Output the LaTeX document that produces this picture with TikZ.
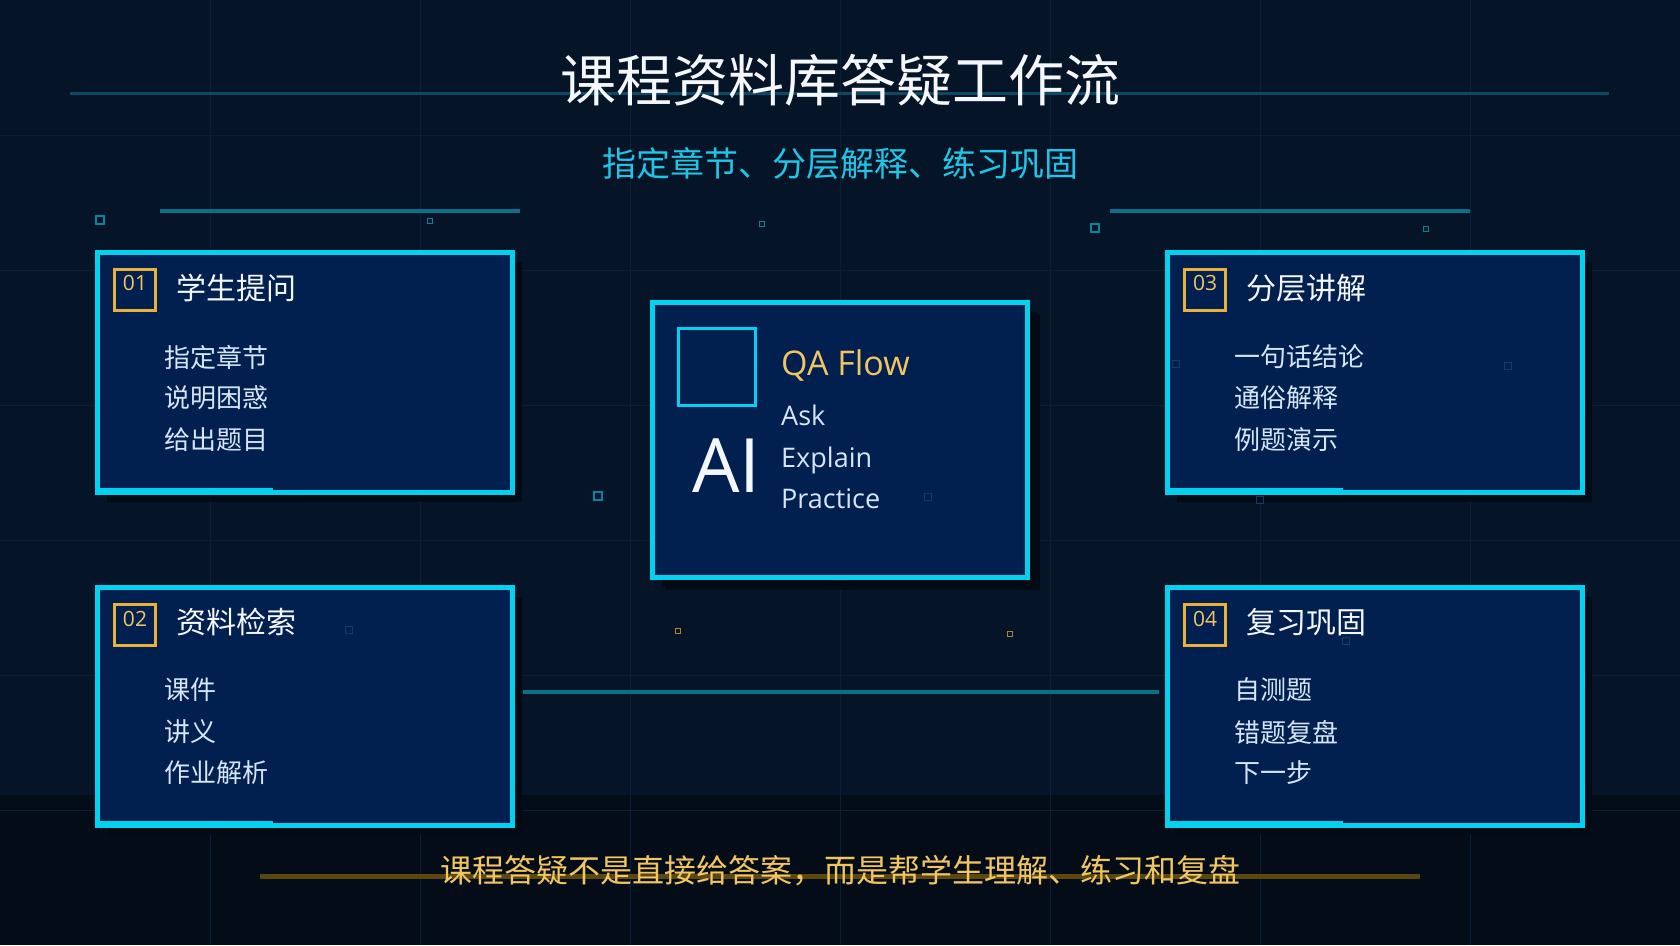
\documentclass[tikz,border=0pt]{standalone}
\usepackage{fontspec}
\setmainfont{Open Sans}
\newfontfamily\cjk{Noto Sans CJK SC}
\usetikzlibrary{calc,shadows}
\definecolor{bg}{HTML}{061428}
\definecolor{bgbot}{HTML}{040D17}
\definecolor{gridc}{HTML}{0A2038}
\definecolor{cardfill}{HTML}{012050}
\definecolor{cyanb}{HTML}{00D2F0}
\definecolor{subc}{HTML}{1EC6E8}
\definecolor{tealc}{HTML}{0A7088}
\definecolor{tealdim}{HTML}{0B4A64}
\definecolor{goldc}{HTML}{E8B23A}
\definecolor{goldtxt}{HTML}{F2C563}
\definecolor{goldline}{HTML}{5A480E}
\definecolor{itemc}{HTML}{D6E6F6}
\definecolor{titlec}{HTML}{F4F8FC}
\definecolor{shadowc}{HTML}{020A14}
\definecolor{faintsq}{HTML}{1B3A62}
\newcommand{\fsz}[1]{\fontsize{#1}{#1}\selectfont}
\begin{document}
\begin{tikzpicture}[x=1pt,y=-1pt,
  card/.style={draw=cyanb, line width=5pt, fill=cardfill, inner sep=0pt,
    drop shadow={shadow xshift=9pt, shadow yshift=-9pt, fill=shadowc, opacity=0.9}},
  numbox/.style={draw=goldc, line width=3pt, minimum size=41pt, inner sep=0pt},
  numtxt/.style={text=goldtxt, font=\fsz{21}, inner sep=0pt},
  ctitle/.style={text=titlec, font=\cjk\fsz{30}, inner sep=0pt, anchor=west},
  citem/.style={text=itemc, font=\cjk\fsz{26}, inner sep=0pt, anchor=west},
  eng/.style={text=itemc, font=\fsz{27}, inner sep=0pt, anchor=base west},
  dsq/.style={draw=#1, line width=1.8pt, minimum size=8pt, inner sep=0pt},
  ssq/.style={draw=#1, line width=1.5pt, minimum size=5pt, inner sep=0pt},
  fsq/.style={draw=faintsq, line width=1.2pt, minimum size=7pt, inner sep=0pt},
  conn/.style={draw=tealc, line width=4pt},
  accent/.style={draw=cyanb, line width=2.5pt}
]
\useasboundingbox (0,0) rectangle (1680,945);
% background
\fill[bg] (0,0) rectangle (1680,945);
\fill[bgbot] (0,795) rectangle (1680,945);
\foreach \x in {210,420,...,1470} \draw[gridc, line width=1pt] (\x,0) -- (\x,945);
\foreach \y in {135,270,...,810} \draw[gridc, line width=1pt] (0,\y) -- (1680,\y);

% title
\draw[tealdim, line width=3pt] (70,93) -- (1609,93);
\node[text=titlec, font=\cjk\fsz{56}, inner sep=0pt] (title) at (840,80) {课程资料库答疑工作流};
\node[text=subc, font=\cjk\fsz{34}, inner sep=0pt] (sub) at (840,163) {指定章节、分层解释、练习巩固};

% deco lines
\draw[tealc, line width=4pt] (160,211) -- (520,211);
\draw[tealc, line width=4pt] (1110,211) -- (1470,211);

% small squares
\node[dsq=tealc!80!cyanb] (s1) at (100,220) {};
\node[ssq=tealc!80!cyanb] (s2) at (430,221) {};
\node[ssq=tealc!80!cyanb] (s3) at (762,224) {};
\node[dsq=tealc!80!cyanb] (s4) at (1095,228) {};
\node[ssq=tealc!80!cyanb] (s5) at (1426,229) {};
\node[dsq=tealc!80!cyanb] (s6) at (598,496) {};
\node[ssq=goldc!75!black] (s7) at (678,631) {};
\node[ssq=goldc!75!black] (s8) at (1010,634) {};

% connector
\node[card, minimum width=415pt, minimum height=238pt] (b2) at (305,706.5) {};
\node[card, minimum width=415pt, minimum height=238pt] (b4) at (1375,706.5) {};
\draw[conn] ($(b2.east)+(8,-14.5)$) -- ($(b4.west)+(-6,-14.5)$);

% cards
\node[card, minimum width=415pt, minimum height=240pt] (b1) at (305,372.5) {};
\node[card, minimum width=415pt, minimum height=240pt] (b3) at (1375,372.5) {};
\node[card, minimum width=375pt, minimum height=275pt,
  drop shadow={shadow xshift=12pt, shadow yshift=-12pt, fill=shadowc, opacity=0.9}] (bc) at (840,440) {};

% bottom accents
\foreach \b in {b1,b2,b3,b4}
  \draw[accent] ($(\b.south west)+(2.5,-5.5)$) -- ++(175,0);

% card 01
\node[numbox] (n1) at (135,289.5) {};
\node[numtxt] (n1t) at (135,283) {01};
\node[ctitle] (t1) at (176,288) {学生提问};
\node[citem] (i11) at (164,357) {指定章节};
\node[citem] (i12) at (164,398) {说明困惑};
\node[citem] (i13) at (164,440) {给出题目};

% card 02
\node[numbox] (n2) at (135,625) {};
\node[numtxt] (n2t) at (135,618.5) {02};
\node[ctitle] (t2) at (176,622) {资料检索};
\node[citem] (i21) at (164,690) {课件};
\node[citem] (i22) at (164,732) {讲义};
\node[citem] (i23) at (164,773) {作业解析};

% card 03
\node[numbox] (n3) at (1205,289.5) {};
\node[numtxt] (n3t) at (1205,283) {03};
\node[ctitle] (t3) at (1246,288) {分层讲解};
\node[citem] (i31) at (1234,357) {一句话结论};
\node[citem] (i32) at (1234,398) {通俗解释};
\node[citem] (i33) at (1234,440) {例题演示};

% card 04
\node[numbox] (n4) at (1205,625) {};
\node[numtxt] (n4t) at (1205,618.5) {04};
\node[ctitle] (t4) at (1246,622) {复习巩固};
\node[citem] (i41) at (1234,690) {自测题};
\node[citem] (i42) at (1234,732) {错题复盘};
\node[citem] (i43) at (1234,773) {下一步};

% center card
\node[draw=cyanb, line width=3.5pt, minimum size=77pt, inner sep=0pt] (sq) at (717,367) {};
\node[text=titlec, font=\fsz{75}, inner sep=0pt, anchor=base west] (ai) at (692,492) {AI};
\node[text=goldtxt, font=\fsz{34}, inner sep=0pt, anchor=base west] (qa) at (781,375) {QA Flow};
\node[eng] (e1) at (781,425) {Ask};
\node[eng] (e2) at (781,467) {Explain};
\node[eng] (e3) at (781,508) {Practice};

% faint squares
\node[fsq] (f1) at (1176,364) {};
\node[fsq] (f2) at (1508,366) {};
\node[fsq] (f3) at (1260,500) {};
\node[fsq] (f4) at (349,630) {};
\node[fsq] (f5) at (1346,641) {};
\node[fsq] (f6) at (928,497) {};

% footer
\draw[goldline, line width=5pt] (260,876) -- (1420,876);
\node[text=goldtxt, font=\cjk\fsz{32}, inner sep=0pt] (foot) at (840,871) {课程答疑不是直接给答案，而是帮学生理解、练习和复盘};
\end{tikzpicture}
\end{document}
